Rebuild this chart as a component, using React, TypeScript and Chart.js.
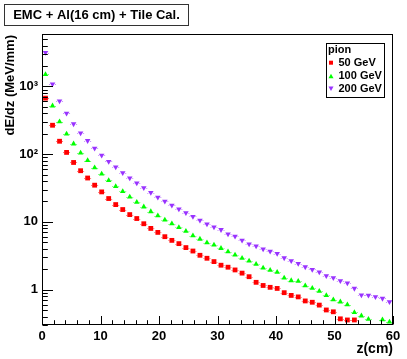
import React, { useEffect, useRef } from "react";
import { Chart, registerables } from "chart.js";
Chart.register(...registerables);

const zCenters = [
  0.6, 1.8, 3.0, 4.2, 5.4, 6.6, 7.8, 9.0, 10.2, 11.4,
  12.6, 13.8, 15.0, 16.2, 17.4, 18.6, 19.8, 21.0, 22.2, 23.4,
  24.6, 25.8, 27.0, 28.2, 29.4, 30.6, 31.8, 33.0, 34.2, 35.4,
  36.6, 37.8, 39.0, 40.2, 41.4, 42.6, 43.8, 45.0, 46.2, 47.4,
  48.6, 49.8, 51.0, 52.2, 53.4, 54.6, 55.8, 57.0, 58.2, 59.4,
];
const binHalfWidth = 0.6;

const pion50 = [
  671, 267, 155, 106, 75.3, 56.9, 44.4, 34.8, 27.7, 22.1,
  18.0, 15.2, 12.8, 11.2, 9.38, 8.0, 6.99, 6.04, 5.33, 4.77,
  4.17, 3.71, 3.21, 2.90, 2.59, 2.29, 2.14, 1.95, 1.75, 1.55,
  1.28, 1.15, 1.08, 1.04, 0.90, 0.82, 0.78, 0.68, 0.65, 0.59,
  0.50, 0.47, 0.37, 0.356, 0.356, null, null, null, null, null,
];
const pion100 = [
  1500, 517, 301, 199, 142, 104, 80.5, 62.9, 51.0, 41.0,
  33.4, 28.2, 23.4, 19.5, 16.7, 14.2, 12.3, 10.7, 9.38, 8.27,
  7.30, 6.25, 5.57, 4.93, 4.55, 4.07, 3.64, 3.24, 2.90, 2.65,
  2.37, 2.09, 1.93, 1.81, 1.49, 1.36, 1.33, 1.14, 1.05, 0.95,
  0.82, 0.71, 0.66, 0.60, 0.46, 0.41, 0.365, null, 0.36, 0.333,
];
const pion200 = [
  3150, 1080, 606, 400, 279, 205, 158, 122, 96, 77.9,
  64.4, 53.1, 44.4, 37.5, 31.7, 27.0, 23.1, 20.1, 17.6, 15.4,
  13.6, 12.0, 10.5, 9.26, 8.36, 7.66, 6.60, 6.10, 5.33, 4.71,
  4.40, 3.97, 3.68, 3.40, 2.93, 2.65, 2.42, 2.16, 1.98, 1.81,
  1.60, 1.49, 1.35, 1.25, 1.04, 0.83, 0.82, 0.78, 0.74, 0.66,
];

const seriesLabels = ["50 GeV", "100 GeV", "200 GeV"];
const seriesColors = ["#ff0000", "#00ff00", "#9933ff"];
const yTickValues = [1, 10, 100, 1000];
const yTickLabels = ["1", "10", "10\u00b2", "10\u00b3"];
const xTickStep = 10;
const xMinorStep = 2;

const FONT = "'Liberation Sans', Arial, Helvetica, sans-serif";

function toPoints(vals: (number | null)[]) {
  const out: { x: number; y: number }[] = [];
  vals.forEach((v, i) => {
    if (v !== null) out.push({ x: zCenters[i], y: v });
  });
  return out;
}

const decorPlugin = {
  id: "decor",
  beforeDatasetsDraw(chart: any) {
    const { ctx, scales, chartArea: a } = chart;
    const x = scales.x;
    const y = scales.y;
    ctx.save();
    ctx.beginPath();
    ctx.rect(a.left, a.top, a.right - a.left, a.bottom - a.top);
    ctx.clip();
    chart.data.datasets.forEach((ds: any) => {
      ctx.strokeStyle = ds.borderColor;
      ctx.globalAlpha = 0.55;
      ctx.lineWidth = 1;
      ctx.setLineDash([1, 2]);
      ds.data.forEach((p: any) => {
        const py = Math.round(y.getPixelForValue(p.y)) + 0.5;
        ctx.beginPath();
        ctx.moveTo(x.getPixelForValue(p.x - binHalfWidth), py);
        ctx.lineTo(x.getPixelForValue(p.x + binHalfWidth), py);
        ctx.stroke();
      });
    });
    ctx.restore();
  },
  afterDraw(chart: any) {
    const { ctx, scales, chartArea: a } = chart;
    const x = scales.x;
    const y = scales.y;
    ctx.save();
    ctx.strokeStyle = "#000";
    ctx.lineWidth = 1;
    const L = Math.round(a.left) + 0.5;
    const R = Math.round(a.right) - 0.5;
    const T = Math.round(a.top) + 0.5;
    const B = Math.round(a.bottom) - 0.5;
    ctx.strokeRect(L, T, R - L, B - T);
    // x ticks
    for (let v = x.min; v <= x.max + 1e-9; v += xMinorStep) {
      const px = Math.round(x.getPixelForValue(v)) + 0.5;
      const len = Math.abs(v % xTickStep) < 1e-9 ? 8.5 : 4.3;
      ctx.beginPath();
      ctx.moveTo(px, B);
      ctx.lineTo(px, B - len);
      ctx.stroke();
    }
    // y ticks (log)
    for (let d = -1; d <= 3; d++) {
      for (let m = 1; m <= 9; m++) {
        const v = m * Math.pow(10, d);
        if (v < y.min || v > y.max) continue;
        const py = Math.round(y.getPixelForValue(v)) + 0.5;
        const len = m === 1 ? 10.5 : 5.3;
        ctx.beginPath();
        ctx.moveTo(L, py);
        ctx.lineTo(L + len, py);
        ctx.stroke();
      }
    }
    // title box
    ctx.fillStyle = "#fff";
    ctx.fillRect(4.5, 4.5, 184, 21);
    ctx.strokeStyle = "#333";
    ctx.strokeRect(4.5, 4.5, 184, 21);
    ctx.fillStyle = "#000";
    ctx.font = `bold 13px ${FONT}`;
    ctx.textAlign = "center";
    ctx.textBaseline = "middle";
    ctx.fillText("EMC + Al(16 cm) + Tile Cal.", 96.5, 15.5);
    // y title
    ctx.save();
    ctx.translate(10, 35);
    ctx.rotate(-Math.PI / 2);
    ctx.textAlign = "right";
    ctx.textBaseline = "middle";
    ctx.font = `bold 13px ${FONT}`;
    ctx.fillText("dE/dz (MeV/mm)", 0, 0);
    ctx.restore();
    // x title
    ctx.textAlign = "right";
    ctx.textBaseline = "middle";
    ctx.font = `bold 14px ${FONT}`;
    ctx.fillText("z(cm)", 393, 349);
    // legend
    ctx.fillStyle = "#fff";
    ctx.fillRect(326.5, 43.5, 58, 54);
    ctx.strokeStyle = "#000";
    ctx.strokeRect(326.5, 43.5, 58, 54);
    ctx.fillStyle = "#000";
    ctx.font = `bold 11px ${FONT}`;
    ctx.textAlign = "left";
    ctx.fillText("pion", 328, 50);
    const rowsY = [62.7, 76.2, 88.5];
    const mx = 331;
    chart.data.datasets.forEach((ds: any, i: number) => {
      const cy = rowsY[i];
      ctx.fillStyle = ds.backgroundColor;
      ctx.beginPath();
      if (i === 0) {
        ctx.rect(mx - 2, cy - 2, 4, 4);
      } else if (i === 1) {
        ctx.moveTo(mx, cy - 2.5);
        ctx.lineTo(mx + 2.5, cy + 2);
        ctx.lineTo(mx - 2.5, cy + 2);
        ctx.closePath();
      } else {
        ctx.moveTo(mx, cy + 2.5);
        ctx.lineTo(mx + 2.5, cy - 2);
        ctx.lineTo(mx - 2.5, cy - 2);
        ctx.closePath();
      }
      ctx.fill();
      ctx.fillStyle = "#000";
      ctx.fillText(seriesLabels[i], 338.5, cy);
    });
    ctx.restore();
  },
};

export default function App() {
  const ref = useRef<HTMLCanvasElement | null>(null);
  useEffect(() => {
    if (!ref.current) return;
    const mk = (i: number, vals: (number | null)[], style: string, rot: number, r: number) => ({
      label: seriesLabels[i],
      data: toPoints(vals),
      borderColor: seriesColors[i],
      backgroundColor: seriesColors[i],
      pointStyle: style,
      rotation: rot,
      pointRadius: r,
      pointBorderWidth: 0,
      showLine: false,
    });
    const chart = new Chart(ref.current, {
      type: "scatter",
      data: {
        datasets: [
          mk(0, pion50, "rect", 0, 3.4),
          mk(1, pion100, "triangle", 0, 3.2),
          mk(2, pion200, "triangle", 180, 3.2),
        ] as any,
      },
      options: {
        responsive: false,
        animation: false,
        devicePixelRatio: 1,
        layout: { padding: { left: 0, right: 14, top: 34, bottom: 0 } },
        plugins: { legend: { display: false }, tooltip: { enabled: false } },
        scales: {
          x: {
            type: "linear",
            min: 0,
            max: 60,
            afterFit: (s: any) => {
              s.height = 34;
            },
            grid: { display: false, drawTicks: false },
            border: { display: false },
            ticks: {
              stepSize: xTickStep,
              autoSkip: false,
              maxRotation: 0,
              padding: 4,
              color: "#000",
              font: { family: FONT, size: 13, weight: "bold" },
            },
          },
          y: {
            type: "logarithmic",
            min: 0.322,
            max: 5940,
            afterFit: (s: any) => {
              s.width = 42;
            },
            afterBuildTicks: (s: any) => {
              s.ticks = yTickValues.map((v) => ({ value: v, major: true }));
            },
            grid: { display: false, drawTicks: false },
            border: { display: false },
            ticks: {
              autoSkip: false,
              padding: 4,
              color: "#000",
              font: { family: FONT, size: 13, weight: "bold" },
              callback: (_v: any, i: number) => yTickLabels[i],
            },
          },
        },
      } as any,
      plugins: [decorPlugin],
    });
    return () => chart.destroy();
  }, []);
  return (
    <div style={{ position: "fixed", left: 0, top: 0, width: 407, height: 359, background: "#fff" }}>
      <canvas ref={ref} width={407} height={359} style={{ display: "block", width: 407, height: 359 }} />
    </div>
  );
}
